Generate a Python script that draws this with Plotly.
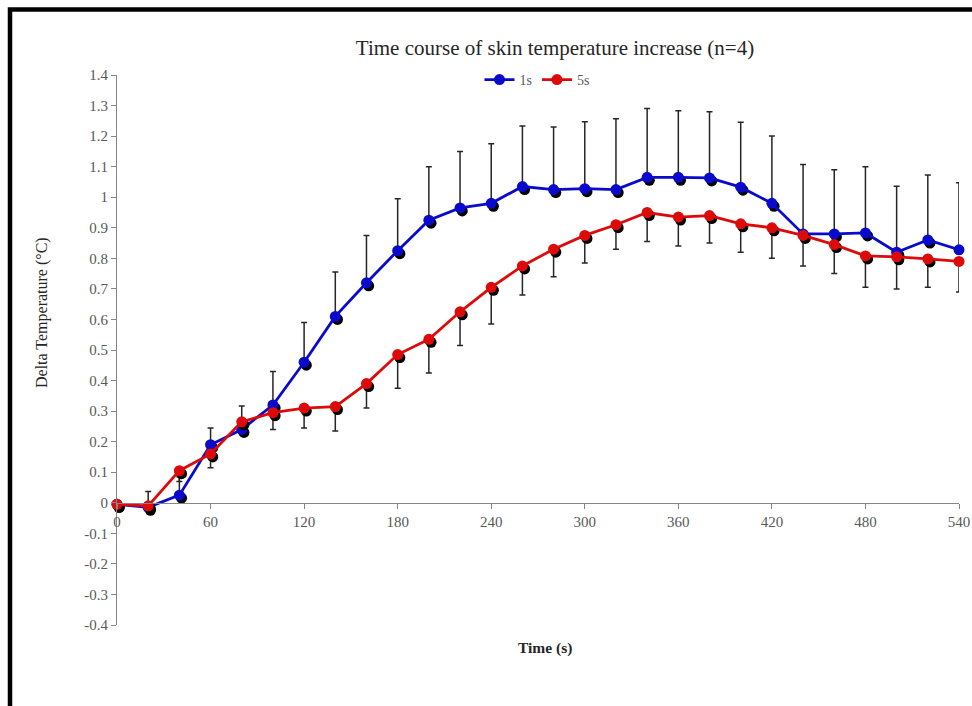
import plotly.graph_objects as go

# ---- data ----
time_s = [0, 20, 40, 60, 80, 100, 120, 140, 160, 180, 200, 220, 240, 260,
          280, 300, 320, 340, 360, 380, 400, 420, 440, 460, 480, 500, 520, 540]

mean_1s = [-0.005, -0.015, 0.025, 0.19, 0.24, 0.32, 0.46, 0.61, 0.72, 0.825,
           0.925, 0.965, 0.98, 1.035, 1.025, 1.028, 1.025, 1.065, 1.065, 1.063,
           1.033, 0.98, 0.88, 0.88, 0.883, 0.82, 0.86, 0.828]
sd_1s = [0.0, 0.052, 0.06, 0.055, 0.077, 0.11, 0.13, 0.145, 0.155, 0.17,
         0.175, 0.185, 0.195, 0.198, 0.205, 0.219, 0.232, 0.225, 0.218, 0.217,
         0.212, 0.22, 0.227, 0.21, 0.217, 0.216, 0.213, 0.219]

mean_5s = [-0.005, -0.01, 0.105, 0.16, 0.265, 0.295, 0.31, 0.315, 0.39, 0.485,
           0.535, 0.625, 0.705, 0.775, 0.83, 0.875, 0.91, 0.95, 0.935, 0.94,
           0.913, 0.9, 0.875, 0.845, 0.808, 0.805, 0.798, 0.79]
sd_5s = [0.0, 0.0, 0.035, 0.045, 0.035, 0.055, 0.065, 0.08, 0.08, 0.11,
         0.11, 0.11, 0.12, 0.095, 0.09, 0.09, 0.08, 0.095, 0.095, 0.09,
         0.093, 0.1, 0.1, 0.095, 0.103, 0.105, 0.093, 0.1]

y_tickvals = [-0.4, -0.3, -0.2, -0.1, 0, 0.1, 0.2, 0.3, 0.4, 0.5, 0.6, 0.7,
              0.8, 0.9, 1.0, 1.1, 1.2, 1.3, 1.4]
y_ticktext = ["-0.4", "-0.3", "-0.2", "-0.1", "0", "0.1", "0.2", "0.3", "0.4",
              "0.5", "0.6", "0.7", "0.8", "0.9", "1", "1.1", "1.2", "1.3", "1.4"]
x_tickvals = [0, 60, 120, 180, 240, 300, 360, 420, 480, 540]

BLUE = "#0A0ACC"
RED = "#DD0A0A"
FONT = "Liberation Serif"

# plot area geometry (px) used for shadow offset conversion
W, H = 972, 706
ML, MR, MT, MB = 117, 13, 75, 81
PW, PH = W - ML - MR, H - MT - MB
X0, X1 = 0, 540
Y0, Y1 = -0.4, 1.4
dx = 2.2 * (X1 - X0) / PW
dy = 3.0 * (Y1 - Y0) / PH

fig = go.Figure()

# error bars (1s upward, 5s downward)
fig.add_trace(go.Scatter(
    x=time_s, y=mean_1s, mode="markers", showlegend=False, hoverinfo="skip",
    marker=dict(size=1, color="rgba(0,0,0,0)"),
    error_y=dict(type="data", array=sd_1s, arrayminus=[0] * len(sd_1s),
                 symmetric=False, color="#262626", thickness=1.5, width=3)))
fig.add_trace(go.Scatter(
    x=time_s, y=mean_5s, mode="markers", showlegend=False, hoverinfo="skip",
    marker=dict(size=1, color="rgba(0,0,0,0)"),
    error_y=dict(type="data", array=[0] * len(sd_5s), arrayminus=sd_5s,
                 symmetric=False, color="#262626", thickness=1.5, width=3)))

for mean, color, name in [(mean_1s, BLUE, "1s"), (mean_5s, RED, "5s")]:
    # drop shadow
    fig.add_trace(go.Scatter(
        x=[t + dx for t in time_s], y=[v - dy for v in mean],
        mode="markers", showlegend=False, hoverinfo="skip",
        marker=dict(size=11, color="black"), cliponaxis=False))
    fig.add_trace(go.Scatter(
        x=time_s, y=mean, mode="lines+markers", name=name,
        line=dict(color=color, width=2.8),
        marker=dict(size=11, color=color), cliponaxis=False))

axis_font = dict(family=FONT, size=15, color="#595959")

fig.update_layout(
    width=W, height=H,
    margin=dict(l=ML, r=MR, t=MT, b=MB, autoexpand=False),
    paper_bgcolor="white", plot_bgcolor="white",
    font=dict(family=FONT, color="#262626"),
    title=dict(text="Time course of skin temperature increase (n=4)",
               font=dict(family=FONT, size=21, color="#262626"),
               x=555 / W, xanchor="center",
               y=1 - 48 / H, yanchor="middle"),
    legend=dict(orientation="h", x=(537 - ML) / PW, xanchor="center",
                y=(H - MB - 80) / PH, yanchor="middle",
                font=dict(family=FONT, size=14, color="#595959"),
                bgcolor="rgba(0,0,0,0)", itemwidth=30, tracegroupgap=0),
    xaxis=dict(range=[X0, X1], tickvals=x_tickvals, ticks="outside",
               ticklen=5, tickcolor="#868686", showline=True,
               linecolor="#868686", linewidth=1.2, showgrid=False,
               zeroline=False, tickfont=axis_font, anchor="free",
               position=(0 - Y0) / (Y1 - Y0), automargin=False),
    yaxis=dict(range=[Y0, Y1], tickvals=y_tickvals, ticktext=y_ticktext,
               ticks="outside", ticklen=5, tickcolor="#868686",
               showline=True, linecolor="#868686", linewidth=1.2,
               showgrid=False, zeroline=False, tickfont=axis_font,
               automargin=False),
    annotations=[
        dict(text="Delta Temperature (°C)", textangle=-90, showarrow=False,
             xref="paper", yref="paper", x=(42 - ML) / PW,
             y=(H - MB - 313) / PH, xanchor="center", yanchor="middle",
             font=dict(family=FONT, size=16, color="#262626")),
        dict(text="<b>Time (s)</b>", showarrow=False, xref="paper",
             yref="paper", x=(545 - ML) / PW, y=(H - MB - 648) / PH,
             xanchor="center", yanchor="middle",
             font=dict(family=FONT, size=15.5, color="#262626")),
    ],
    shapes=[dict(type="path", xref="paper", yref="paper",
                 path="M {l},{b} L {l},{t} L {r},{t}".format(
                     l=(10 - ML) / PW, b=(H - MB - 720) / PH,
                     t=(H - MB - 9.5) / PH, r=(985 - ML) / PW),
                 line=dict(color="black", width=4.5))],
)

fig.write_html("out.html")
